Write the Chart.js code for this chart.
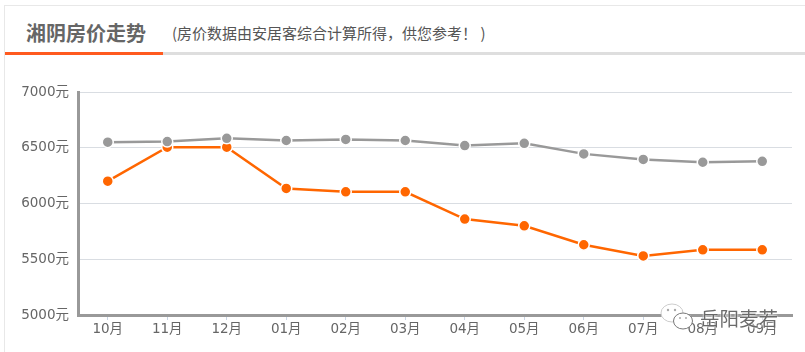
<!DOCTYPE html>
<html>
<head>
<meta charset="utf-8">
<script src="https://cdn.jsdelivr.net/npm/chart.js@4"></script>
<style>
  html, body { margin: 0; padding: 0; background: #fff; }
  #page { position: relative; width: 805px; height: 352px; overflow: hidden; font-family: "Noto Sans CJK SC", sans-serif; }
  #frame { position: absolute; left: 4px; top: 5px; width: 801px; height: 347px; border-left: 1px solid #e8e8e8; border-top: 1px solid #e8e8e8; }
  #rule { position: absolute; left: 5px; top: 52px; width: 800px; height: 3px; background: #dedede; }
  #rule i { position: absolute; left: 0; top: 0; width: 158px; height: 3px; background: #ff5a1f; }
  #title { position: absolute; left: 26px; top: 18px; font-size: 20px; line-height: 30px; font-weight: 700; color: #666; }
  #note { position: absolute; left: 172px; top: 21px; font-size: 15px; line-height: 24px; color: #555; white-space: nowrap; }
  #chart { position: absolute; left: 0; top: 0; }
  #icon { position: absolute; left: 660px; top: 303px; }
  #mark { position: absolute; left: 700px; top: 305px; font-size: 19.5px; line-height: 26px; color: rgba(70,70,70,0.8); white-space: nowrap; text-shadow: 0 0 2px #fff, 0 0 2px #fff; }
</style>
</head>
<body>
<div id="page">
  <div id="frame"></div>
  <div id="rule"><i></i></div>
  <div id="title">湘阴房价走势</div>
  <div id="note">(房价数据由安居客综合计算所得，供您参考！ )</div>
  <canvas id="chart" width="805" height="352"></canvas>
  <svg id="icon" width="40" height="32" viewBox="0 0 40 32">
    <ellipse cx="12" cy="10" rx="11" ry="9" fill="#fff" stroke="#ccc"/>
    <circle cx="8" cy="7" r="1.2" fill="#aaa"/>
    <circle cx="15" cy="7" r="1.2" fill="#aaa"/>
    <ellipse cx="23" cy="18" rx="9.5" ry="8" fill="#fff" stroke="#777"/>
    <circle cx="20" cy="15" r="1" fill="#aaa"/>
    <circle cx="26" cy="15" r="1" fill="#aaa"/>
  </svg>
  <div id="mark">岳阳麦若</div>
</div>
<script>
const months = ['10月','11月','12月','01月','02月','03月','04月','05月','06月','07月','08月','09月'];
const cityPrice = [6550,6555,6585,6565,6575,6565,6520,6540,6445,6395,6370,6378];
const townPrice = [6200,6505,6505,6135,6105,6105,5860,5800,5630,5530,5585,5585];
const yTicks = [5000,5500,6000,6500,7000];
const tickFont = { size: 13.5, family: '"DejaVu Sans", "Noto Sans CJK SC", sans-serif' };

function lineSet(data, color) {
    return {
        data,
        borderColor: color,
        backgroundColor: color,
        borderWidth: 2.5,
        tension: 0,
        pointRadius: 5.5,
        pointBorderWidth: 1.5,
        pointBorderColor: '#fff',
        pointBackgroundColor: color
    };
}

new Chart(document.getElementById('chart'), {
    type: 'line',
    data: {
        labels: months,
        datasets: [lineSet(cityPrice, '#999999'), lineSet(townPrice, '#ff6600')]
    },
    options: {
        responsive: false,
        animation: false,
        layout: { padding: { left: 20, right: 13, top: 92, bottom: 0 } },
        plugins: { legend: { display: false }, tooltip: { enabled: false } },
        scales: {
            y: {
                min: 5000, max: 7000,
                afterBuildTicks: (axis) => { axis.ticks = yTicks.map(v => ({ value: v })); },
                afterFit: (axis) => { axis.width = 58; },
                grid: { color: '#d9dde2', lineWidth: 1, drawTicks: false },
                border: { color: '#999999', width: 3 },
                ticks: {
                    color: '#666',
                    padding: 9,
                    font: tickFont,
                    callback: (v) => v + '元'
                }
            },
            x: {
                offset: true,
                afterFit: (axis) => { axis.height = 37; },
                grid: { display: true, drawOnChartArea: false, color: '#c8d4e4', tickLength: 5, offset: false },
                border: { color: '#999999', width: 3 },
                ticks: {
                    color: '#666',
                    maxRotation: 0,
                    padding: 1,
                    font: tickFont
                }
            }
        }
    }
});
</script>
</body>
</html>
